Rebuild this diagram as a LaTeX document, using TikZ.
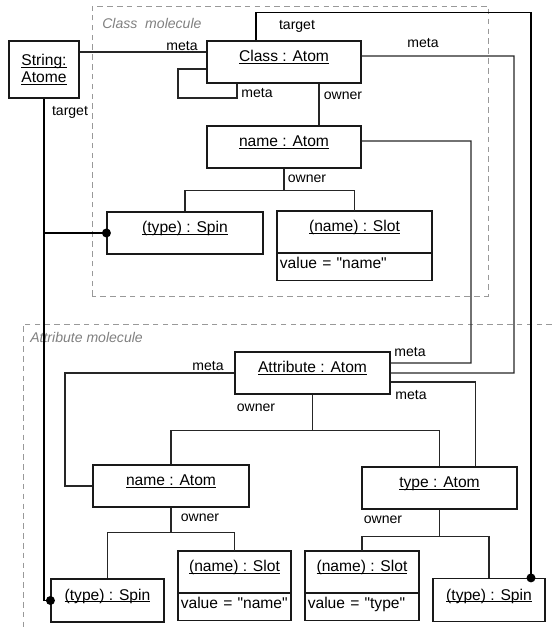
\documentclass[tikz,border=0pt]{standalone}
\usepackage{fontspec}
\setmainfont{Liberation Sans}[Ligatures=TeXOff]
\usepackage{tikz}
\usetikzlibrary{positioning}

\newcommand{\undl}[1]{\leavevmode\setbox0=\hbox{#1}\rlap{\rule[-1.3pt]{\wd0}{0.6pt}}\box0}

\begin{document}
\begin{tikzpicture}[object/.style={
                draw=black!90,
                line width=0.8pt,
                inner ysep=0pt,
                text height=14.9pt,
                text depth=14.9pt,
                font=\fontsize{11.1}{12.2}\selectfont,
        },
        slot/.style={object, outer sep=0pt},
        slotvalue/.style={draw=black!90, line width=0.8pt, outer sep=0pt, inner xsep=2pt, inner ysep=0pt,
                text height=10.9pt, text depth=9pt, align=left, font=\fontsize{11.1}{12.2}\selectfont},
        role/.style={inner sep=0pt, font=\fontsize{10}{12}\selectfont},
        molecule/.style={draw=black!40, line width=0.7pt, dash pattern=on 4pt off 3pt},
        moltitle/.style={anchor=west, inner sep=0pt, text=black!50, font=\fontsize{10}{12}\selectfont\itshape},
        link/.style={line width=0.9pt, draw=black!85},
        target/.style={line width=1.1pt, draw=black},
        dot/.style={circle, fill=black, inner sep=0pt, minimum size=6.4pt},
        ]
            \useasboundingbox (0, 0) rectangle (13.8, 15.75);
            % molecules
            \draw[molecule] (2.3, 8.35) rectangle (12.2, 15.6);
            \node[moltitle] (clsmol) at (2.55, 15.175) {Class\ \ molecule};
            \draw[molecule] (13.8, 7.65) -- (0.575, 7.65) -- (0.575, 0);
            \node[moltitle] (attmol) at (0.75, 7.325) {Attribute molecule};
            % objects
            \node[draw=black!90, line width=0.8pt, minimum width=1.75cm, minimum height=1.425cm, align=center,
                  font=\fontsize{11.1}{12.2}\selectfont] (str) at (1.1, 14.0125) {\undl{String:}\\\undl{Atome}};
            \node[object, minimum width=3.85cm] (cls) at (7.1, 14.2) {\undl{Class : Atom}};
            \node[object, minimum width=3.85cm] (nm) at (7.1, 12.075) {\undl{name : Atom}};
            \node[object, minimum width=3.9cm] (spn) at (4.625, 9.925) {\undl{(type) : Spin}};
            \node[slot, minimum width=3.875cm] (slt) at (8.8625, 9.95) {\undl{(name) : Slot}};
            \node[slotvalue, text width=106.2pt, below=0pt of slt] (sltv) {value = "name"};
            \node[object, minimum width=3.875cm] (att) at (7.8125, 6.425) {\undl{Attribute : Atom}};
            \node[object, minimum width=3.9cm] (anm) at (4.275, 3.6) {\undl{name : Atom}};
            \node[object, minimum width=3.875cm] (atp) at (10.9875, 3.55) {\undl{type : Atom}};
            \node[object, minimum width=2.825cm, text height=15.3pt, text depth=15.3pt] (aspn) at (2.6875, 0.7375) {\undl{(type) : Spin}};
            \node[slot, minimum width=2.825cm] (aslt) at (5.8625, 1.45) {\undl{(name) : Slot}};
            \node[slotvalue, text width=76.4pt, below=0pt of aslt] (asltv) {value = "name"};
            \node[slot, minimum width=2.85cm] (tslt) at (9.05, 1.45) {\undl{(name) : Slot}};
            \node[slotvalue, text width=77.1pt, below=0pt of tslt] (tsltv) {value = "type"};
            \node[object, minimum width=2.8cm, text height=15.3pt, text depth=15.3pt] (tspn) at (12.225, 0.75) {\undl{(type) : Spin}};
            % meta links
            \draw[link] (str.east |- 0, 14.45) -- (cls.west |- 0, 14.45);
            \draw[link] ([yshift=-0.175cm]cls.west) -| (4.45, 13.3) -| ([xshift=-1.175cm]cls.south);
            \draw[link] ([yshift=0.15cm]cls.east) -- (12.85, 14.35) |- (att.east);
            \draw[link] ([yshift=0.15cm]nm.east) -- (11.775, 12.225) |- ([yshift=0.25cm]att.east);
            \draw[link] ([yshift=-0.225cm]att.east) -| ([xshift=0.9cm]atp.north);
            \draw[link] (att.west) -- (1.625, 6.425) |- (anm.west);
            % owner links
            \draw[link] ([xshift=0.875cm]cls.south) -- ([xshift=0.875cm]nm.north);
            \draw[link] (nm.south) -- ++(0, -0.55) -| (spn.north);
            \draw[link] (nm.south) ++(0, -0.55) -| (slt.north);
            \draw[link] (att.south) -- ++(0, -0.9) -| (anm.north);
            \draw[link] (att.south) ++(0, -0.9) -| (atp.north);
            \draw[link] (anm.south) -- ++(0, -0.625) -| (aspn.north);
            \draw[link] (anm.south) ++(0, -0.625) -| (aslt.north);
            \draw[link] (atp.south) -- ++(0, -0.675) -| (tslt.north);
            \draw[link] (atp.south) ++(0, -0.675) -| (tspn.north);
            % target links
            \draw[target] (str.south) |- (aspn.west) node[dot] (d1) {};
            \draw[target] (str.south |- spn.west) -- (spn.west) node[dot] (d2) {};
            \draw[target] ([xshift=-0.7cm]cls.north) -- ++(0, 0.7) -| ([xshift=1.05cm]tspn.north) node[dot] (d3) {};
            % roles
            \node[role] (m1) at (4.55, 14.6) {meta};
            \node[role] (m2) at (6.425, 13.425) {meta};
            \node[role] (t1) at (1.75, 12.95) {target};
            \node[role] (t2) at (7.425, 15.1) {target};
            \node[role] (m3) at (10.575, 14.675) {meta};
            \node[role] (o1) at (8.575, 13.35) {owner};
            \node[role] (o2) at (7.675, 11.275) {owner};
            \node[role] (m4) at (5.2, 6.6) {meta};
            \node[role] (m5) at (10.25, 6.95) {meta};
            \node[role] (m6) at (10.275, 5.875) {meta};
            \node[role] (o3) at (6.4, 5.55) {owner};
            \node[role] (o4) at (5.0, 2.8) {owner};
            \node[role] (o5) at (9.575, 2.75) {owner};
        \end{tikzpicture}
\end{document}
